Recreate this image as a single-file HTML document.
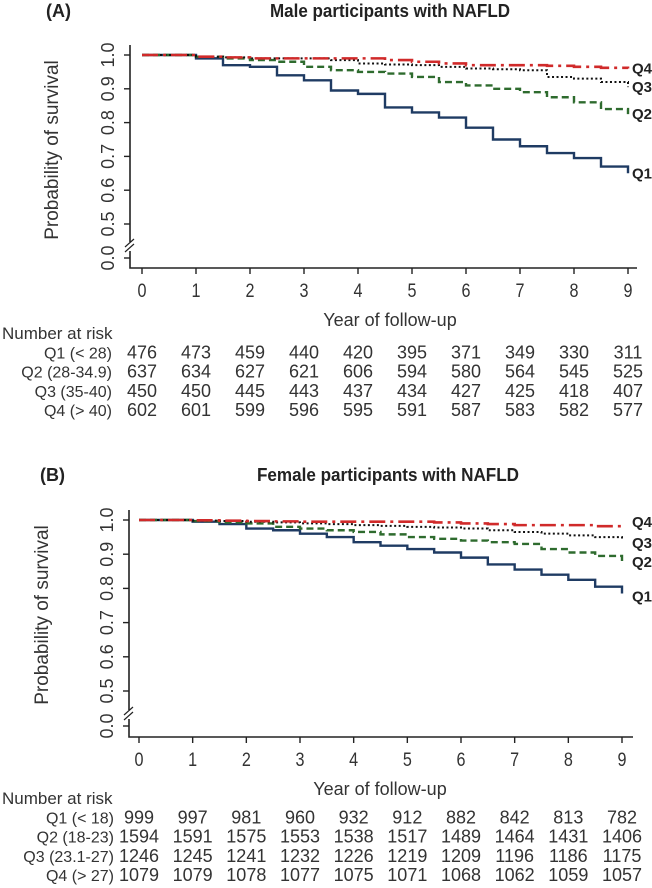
<!DOCTYPE html>
<html><head><meta charset="utf-8"><style>
html,body{margin:0;padding:0;background:#fff;}
svg{display:block;font-family:"Liberation Sans",Arial,sans-serif;}
</style></head><body>
<svg id="chart" width="652" height="888" viewBox="0 0 652 888" xmlns="http://www.w3.org/2000/svg"></svg>
<script>
const times=[0,0.5,1,1.5,2,2.5,3,3.5,4,4.5,5,5.5,6,6.5,7,7.5,8,8.5,9];
const xTicks=[0,1,2,3,4,5,6,7,8,9];
const yTickLabels=["0.0","0.5","0.6","0.7","0.8","0.9","1.0"];
const yTickValues=[0,0.5,0.6,0.7,0.8,0.9,1.0];
const seriesNames=["Q1","Q2","Q3","Q4"];
// Panel A (male)
const maleQ1=[1,1,0.99,0.97,0.965,0.94,0.925,0.895,0.885,0.845,0.83,0.815,0.785,0.75,0.73,0.71,0.695,0.67,0.65];
const maleQ2=[1,1,0.995,0.99,0.985,0.98,0.965,0.955,0.95,0.945,0.935,0.92,0.91,0.9,0.89,0.875,0.86,0.84,0.825];
const maleQ3=[1,1,0.995,0.993,0.99,0.99,0.99,0.985,0.975,0.972,0.97,0.965,0.96,0.958,0.955,0.935,0.93,0.92,0.905];
const maleQ4=[1,1,0.995,0.993,0.99,0.99,0.99,0.99,0.99,0.985,0.98,0.975,0.97,0.97,0.97,0.968,0.965,0.962,0.96];
const maleRowLabels=["Q1 (< 28)","Q2 (28-34.9)","Q3 (35-40)","Q4 (> 40)"];
const maleRiskQ1=[476,473,459,440,420,395,371,349,330,311];
const maleRiskQ2=[637,634,627,621,606,594,580,564,545,525];
const maleRiskQ3=[450,450,445,443,437,434,427,425,418,407];
const maleRiskQ4=[602,601,599,596,595,591,587,583,582,577];
// Panel B (female)
const femaleQ1=[1,1,0.995,0.988,0.975,0.97,0.96,0.95,0.935,0.925,0.915,0.905,0.89,0.87,0.855,0.84,0.825,0.805,0.785];
const femaleQ2=[1,1,0.997,0.993,0.99,0.98,0.975,0.97,0.965,0.958,0.95,0.945,0.94,0.935,0.93,0.915,0.905,0.895,0.88];
const femaleQ3=[1,1,0.998,0.997,0.995,0.993,0.99,0.988,0.985,0.983,0.98,0.978,0.975,0.97,0.965,0.96,0.955,0.95,0.945];
const femaleQ4=[1,1,0.999,0.998,0.997,0.996,0.995,0.995,0.995,0.995,0.995,0.993,0.99,0.988,0.985,0.985,0.985,0.982,0.98];
const femaleRowLabels=["Q1 (< 18)","Q2 (18-23)","Q3 (23.1-27)","Q4 (> 27)"];
const femaleRiskQ1=[999,997,981,960,932,912,882,842,813,782];
const femaleRiskQ2=[1594,1591,1575,1553,1538,1517,1489,1464,1431,1406];
const femaleRiskQ3=[1246,1245,1241,1232,1226,1219,1209,1196,1186,1175];
const femaleRiskQ4=[1079,1079,1078,1077,1075,1071,1068,1062,1059,1057];

const NS="http://www.w3.org/2000/svg";
const svg=document.getElementById('chart');
function mk(tag,attrs,parent){const e=document.createElementNS(NS,tag);for(const k in attrs)e.setAttribute(k,attrs[k]);(parent||svg).appendChild(e);return e;}
const styles=[
 {stroke:"#1f3b63",dash:"",w:2.4},
 {stroke:"#2e6b2e",dash:"7,4",w:2.4},
 {stroke:"#111",dash:"2,2.5",w:2},
 {stroke:"#d02a2a",dash:"16,5,3,5",w:2.6}
];

function panel(cfg){
  const g=mk('g',{});
  
  
  const xs=v=>cfg.x0+(cfg.x9-cfg.x0)*v/9;
  const ys=v=>v>=0.5? cfg.y05-(v-0.5)/0.5*(cfg.y05-cfg.y10) : cfg.y00;
  let t=mk('text',{x:cfg.letterX,y:cfg.titleY,'font-size':18,'font-weight':'bold',fill:'#222'},g);
  t.textContent=cfg.letter;
  
  
  t=mk('text',{x:cfg.titleX,y:cfg.titleY,'font-size':18,'font-weight':'bold','text-anchor':'middle',fill:'#222',textLength:cfg.titleW,lengthAdjust:'spacingAndGlyphs'},g);
  t.textContent=cfg.title;
  
  
  const ax=mk('path',{d:`M${cfg.ax},${cfg.yTop} V${cfg.breakY-4} M${cfg.ax},${cfg.breakY+5} V${cfg.axY} H${cfg.axR}`,stroke:'#222','stroke-width':1.6,fill:'none'},g);
  
  
  const br=mk('path',{d:`M${cfg.ax-5},${cfg.breakY+1} l9,-8 M${cfg.ax-5},${cfg.breakY+6} l9,-8`,stroke:'#222','stroke-width':1.2,fill:'none'},g);
  
  
  yTickValues.forEach((v,i)=>{
    const y=ys(v);
    const tk=mk('line',{x1:cfg.ax-6,x2:cfg.ax,y1:y,y2:y,stroke:'#222','stroke-width':1.4},g);
    
    
    const lb=mk('text',{transform:`translate(${cfg.ax-16},${y}) rotate(-90)`,'font-size':18,'text-anchor':'middle',fill:'#333'},g);
    lb.textContent=yTickLabels[i];
    
    
  });
  const yl=mk('text',{transform:`translate(${cfg.ylabX},${cfg.ylabY}) rotate(-90)`,'font-size':19,'text-anchor':'middle',fill:'#333'},g);
  yl.textContent="Probability of survival";
  
  
  xTicks.forEach(v=>{
    const x=xs(v);
    const tk=mk('line',{x1:x,x2:x,y1:cfg.axY,y2:cfg.axY+6,stroke:'#222','stroke-width':1.4},g);
    
    
    const lb=mk('text',{x:x,y:cfg.axY+29,'font-size':19,'text-anchor':'middle',fill:'#333',transform:`translate(${x},0) scale(0.85,1) translate(${-x},0)`},g);
    lb.textContent=String(v);
    
    
  });
  const xl=mk('text',{x:cfg.xlabX,y:cfg.axY+58,'font-size':18,'text-anchor':'middle',fill:'#333'},g);
  xl.textContent="Year of follow-up";
  
  
  cfg.series.forEach((s,i)=>{
    let d=`M${xs(times[0])},${ys(s[0])}`;
    for(let k=1;k<times.length;k++){d+=` H${xs(times[k])} V${ys(s[k])}`;}
    const p=mk('path',{d:d,fill:'none',stroke:styles[i].stroke,'stroke-width':styles[i].w,'stroke-dasharray':styles[i].dash},g);
    
    
    const lb=mk('text',{x:cfg.qX,y:ys(s[s.length-1])+cfg.qOff[i],'font-size':15,'font-weight':'bold',fill:'#222'},g);
    lb.textContent=seriesNames[i];
    
    
  });
  const nr=mk('text',{x:2,y:cfg.riskY,'font-size':17,fill:'#333'},g);
  nr.textContent="Number at risk";
  
  
  cfg.risk.forEach((row,r)=>{
    const y=cfg.riskY+19.3*(r+1);
    const lb=mk('text',{x:cfg.rowLabR,y:y,'font-size':16,'text-anchor':'end',fill:'#333'},g);
    lb.textContent=cfg.rowLabels[r];
    
    
    row.forEach((n,c)=>{
      const tx=mk('text',{x:xs(xTicks[c]),y:y,'font-size':18,'text-anchor':'middle',fill:'#333'},g);
      tx.textContent=String(n);
      
      
    });
  });
}

panel({name:'panel-male',letter:'(A)',title:'Male participants with NAFLD',letterX:46,titleX:390,titleY:17,titleW:240,
  x0:142,x9:628,ax:130,axR:637,axY:268,yTop:45,y10:55,y05:224,y00:258,breakY:246,
  ylabX:58,ylabY:150,xlabX:390,qX:632,qOff:[5,5,5,5],
  riskY:339,rowLabR:112,rowLabels:maleRowLabels,
  series:[maleQ1,maleQ2,maleQ3,maleQ4],risk:[maleRiskQ1,maleRiskQ2,maleRiskQ3,maleRiskQ4]});
panel({name:'panel-female',letter:'(B)',title:'Female participants with NAFLD',letterX:40,titleX:388,titleY:481,titleW:262,
  x0:139,x9:622,ax:129,axR:633,axY:737,yTop:510,y10:520,y05:691,y00:726,breakY:714,
  ylabX:48,ylabY:615,xlabX:380,qX:632,qOff:[8,6,9,0],
  riskY:804,rowLabR:114,rowLabels:femaleRowLabels,
  series:[femaleQ1,femaleQ2,femaleQ3,femaleQ4],risk:[femaleRiskQ1,femaleRiskQ2,femaleRiskQ3,femaleRiskQ4]});
</script>
</body></html>
